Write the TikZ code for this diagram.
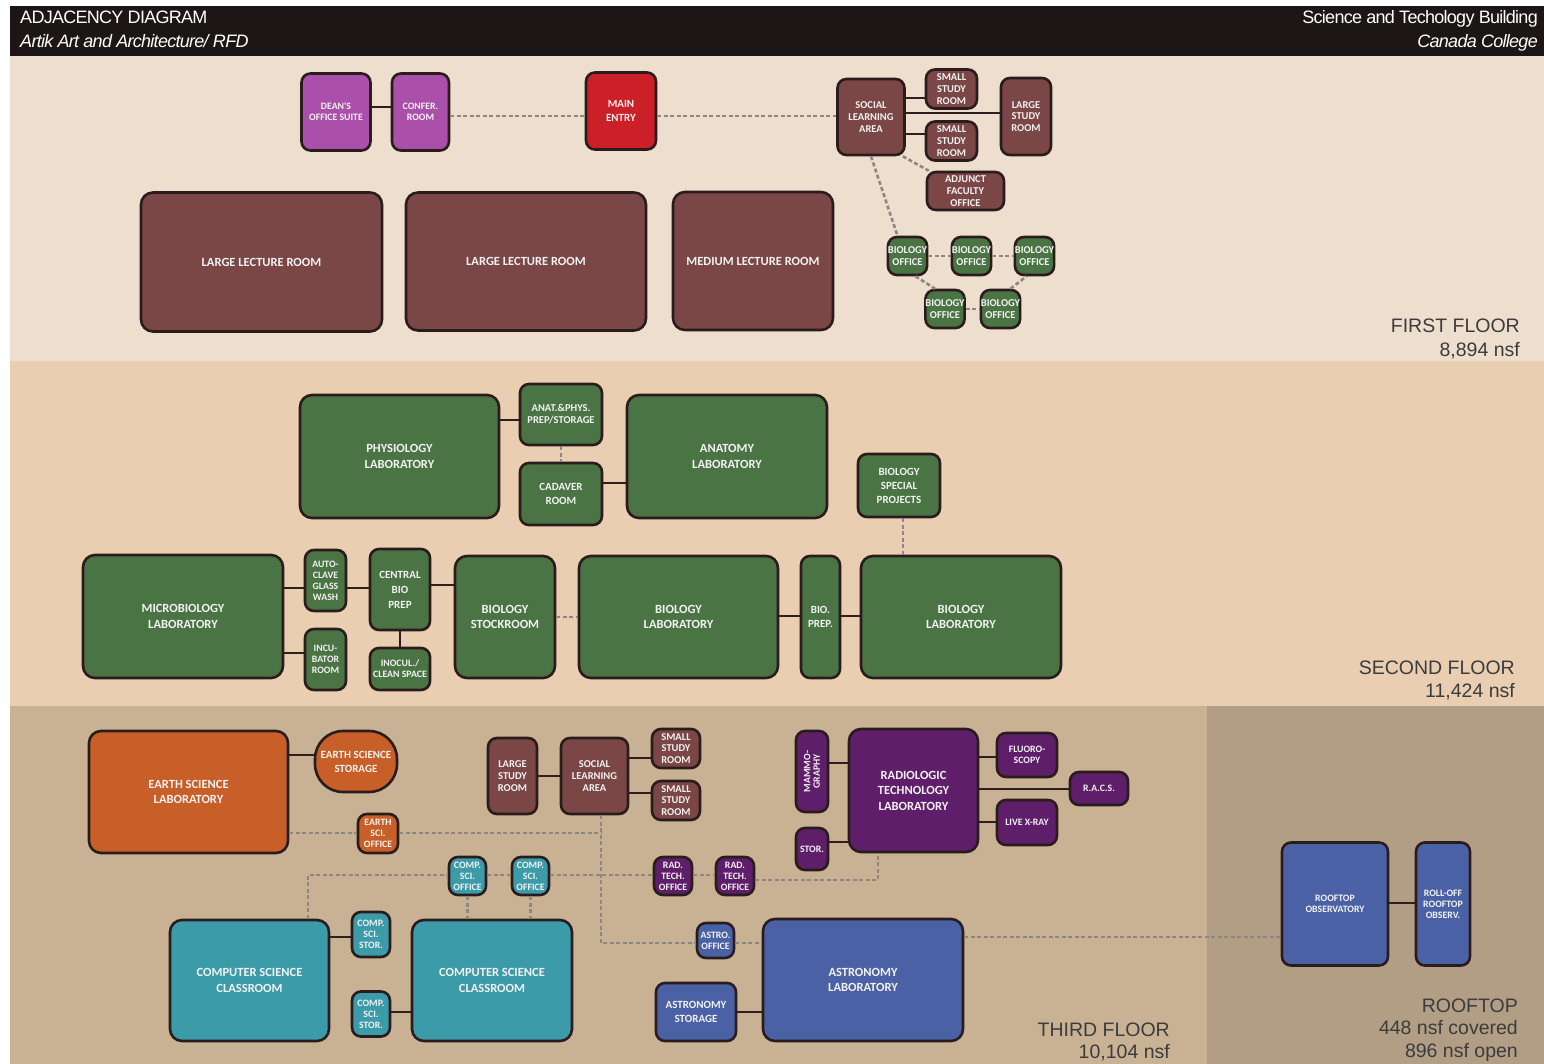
\documentclass[tikz,border=0pt]{standalone}
\usepackage{fontspec}
\setmainfont{Liberation Sans}
\newfontfamily\hdrfont{Liberation Sans}[LetterSpace=-4]
\newfontfamily\roomfont{Carlito}
\definecolor{hdr}{HTML}{1C1616}
\definecolor{bgA}{HTML}{EEDECE}
\definecolor{bgB}{HTML}{E9CEB1}
\definecolor{bgC}{HTML}{C9B294}
\definecolor{bgD}{HTML}{B29E85}
\definecolor{bordc}{HTML}{2A1C1C}
\definecolor{linkc}{HTML}{2E1E1E}
\definecolor{dashc}{HTML}{8C8782}
\definecolor{lblc}{HTML}{3C3C3C}
\definecolor{cmaroon}{HTML}{7A4646}
\definecolor{cpurple}{HTML}{AA4FAA}
\definecolor{cred}{HTML}{CC2028}
\definecolor{cgreen}{HTML}{4A7444}
\definecolor{corange}{HTML}{C85F28}
\definecolor{cteal}{HTML}{3C9BA8}
\definecolor{cblue}{HTML}{4A62A5}
\definecolor{cdpurple}{HTML}{5F1E69}
\tikzset{
  room/.style 2 args={draw=bordc, line width=2.6pt, rounded corners=9pt,
    minimum width=#1pt, minimum height=#2pt, inner sep=0pt, text=white!95!black,
    align=center, font=\roomfont\bfseries\fontsize{10.5}{11.8}\selectfont},
  big/.style={rounded corners=12pt, font=\roomfont\bfseries\fontsize{12.5}{15.5}\selectfont},
  mid/.style={font=\roomfont\bfseries\fontsize{11}{14}\selectfont},
  tiny/.style={font=\roomfont\bfseries\fontsize{9.8}{11}\selectfont},
  fmaroon/.style={fill=cmaroon}, fpurple/.style={fill=cpurple}, fred/.style={fill=cred},
  fgreen/.style={fill=cgreen}, forange/.style={fill=corange}, fteal/.style={fill=cteal},
  fblue/.style={fill=cblue}, fdpurple/.style={fill=cdpurple},
  link/.style={draw=linkc, line width=2.8pt},
  dlink/.style={draw=dashc, line width=2.6pt, dash pattern=on 4pt off 2.5pt},
  floorlbl/.style={anchor=base east, text=lblc, inner sep=0pt, font=\fontsize{19.5}{22}\selectfont},
  hdrtxt/.style={text=white, inner sep=0pt, font=\hdrfont\fontsize{18}{20}\selectfont},
}
\begin{document}
\begin{tikzpicture}[x=1pt,y=-1pt]
\useasboundingbox (0,0) rectangle (1544,1064);
% backgrounds
\fill[white] (0,0) rectangle (1544,1064);
\fill[hdr] (10,6) rectangle (1544,56);
\fill[bgA] (10,56) rectangle (1544,361);
\fill[bgB] (10,361) rectangle (1544,706);
\fill[bgC] (10,706) rectangle (1207,1064);
\fill[bgD] (1207,706) rectangle (1544,1064);
% header
\node[hdrtxt, anchor=base west] (t1) at (20,24) {ADJACENCY DIAGRAM};
\node[hdrtxt, anchor=base west] (t2) at (20,48) {\itshape Artik Art and Architecture/ RFD};
\node[hdrtxt, anchor=base east] (t3) at (1538,24) {Science and Techology Building};
\node[hdrtxt, anchor=base east] (t4) at (1538,48) {\itshape Canada College};
% floor labels
\node[floorlbl] (f1a) at (1520,333) {FIRST FLOOR};
\node[floorlbl] (f1b) at (1520,356) {8,894 nsf};
\node[floorlbl] (f2a) at (1515,674) {SECOND FLOOR};
\node[floorlbl] (f2b) at (1515,697) {11,424 nsf};
\node[floorlbl] (f3a) at (1170,1036) {THIRD FLOOR};
\node[floorlbl] (f3b) at (1170,1058) {10,104 nsf};
\node[floorlbl] (f4a) at (1518,1012) {ROOFTOP};
\node[floorlbl] (f4b) at (1518,1034) {448 nsf covered};
\node[floorlbl] (f4c) at (1518,1057) {896 nsf open};

% ---------- FIRST FLOOR ----------
\node[room={69}{77}, fpurple, tiny] (dean) at (336,112) {DEAN'S\\OFFICE SUITE};
\node[room={57}{77}, fpurple, tiny] (conf) at (420.5,112) {CONFER.\\ROOM};
\node[room={70}{77}, fred, mid] (main) at (621,111) {MAIN\\ENTRY};
\node[room={67}{76}, fmaroon] (sla1) at (871,117) {SOCIAL\\LEARNING\\AREA};
\node[room={51}{39}, fmaroon] (ss1) at (951.5,89) {SMALL\\STUDY\\ROOM};
\node[room={51}{39}, fmaroon] (ss2) at (951.5,141) {SMALL\\STUDY\\ROOM};
\node[room={50}{77}, fmaroon] (lsr1) at (1026,116.5) {LARGE\\STUDY\\ROOM};
\node[room={77}{38}, fmaroon] (adj) at (965.5,191) {ADJUNCT\\FACULTY\\OFFICE};
\node[room={39}{38}, fgreen] (bo1) at (907.5,256) {BIOLOGY\\OFFICE};
\node[room={39}{38}, fgreen] (bo2) at (971.5,256) {BIOLOGY\\OFFICE};
\node[room={39}{38}, fgreen] (bo3) at (1034.5,256) {BIOLOGY\\OFFICE};
\node[room={39}{38}, fgreen] (bo4) at (945,309) {BIOLOGY\\OFFICE};
\node[room={39}{38}, fgreen] (bo5) at (1000.5,309) {BIOLOGY\\OFFICE};
\node[room={241}{139}, fmaroon, big] (llr1) at (261.5,262) {LARGE LECTURE ROOM};
\node[room={240}{138}, fmaroon, big] (llr2) at (526,261.5) {LARGE LECTURE ROOM};
\node[room={160}{138}, fmaroon, big] (mlr) at (753,261) {MEDIUM LECTURE ROOM};

% ---------- SECOND FLOOR ----------
\node[room={199}{123}, fgreen, big] (phys) at (399.5,456.5) {PHYSIOLOGY\\LABORATORY};
\node[room={82}{61}, fgreen] (anat) at (561,414.5) {ANAT.\&PHYS.\\PREP/STORAGE};
\node[room={82}{62}, fgreen, mid] (cad) at (561,494) {CADAVER\\ROOM};
\node[room={200}{123}, fgreen, big] (anatomy) at (727,456.5) {ANATOMY\\LABORATORY};
\node[room={82}{63}, fgreen, mid] (bsp) at (899,485.5) {BIOLOGY\\SPECIAL\\PROJECTS};
\node[room={200}{123}, fgreen, big] (micro) at (183,616.5) {MICROBIOLOGY\\LABORATORY};
\node[room={41}{61}, fgreen, tiny] (auto) at (325.5,580.5) {AUTO-\\CLAVE\\GLASS\\WASH};
\node[room={41}{61}, fgreen, tiny] (incu) at (325.5,659.5) {INCU-\\BATOR\\ROOM};
\node[room={60}{81}, fgreen, font=\roomfont\bfseries\fontsize{11}{15}\selectfont] (cbp) at (400,589.5) {CENTRAL\\BIO\\PREP};
\node[room={60}{42}, fgreen, tiny] (inoc) at (400,669) {INOCUL./\\CLEAN SPACE};
\node[room={100}{122}, fgreen, big] (stock) at (505,617) {BIOLOGY\\STOCKROOM};
\node[room={199}{122}, fgreen, big] (bl1) at (678.5,617) {BIOLOGY\\LABORATORY};
\node[room={39}{122}, fgreen, mid] (bprep) at (820.5,617) {BIO.\\PREP.};
\node[room={200}{122}, fgreen, big] (bl2) at (961,617) {BIOLOGY\\LABORATORY};

% ---------- THIRD FLOOR ----------
\node[room={199}{122}, forange, big] (esl) at (188.5,792) {EARTH SCIENCE\\LABORATORY};
\node[room={82}{61}, forange, mid, rounded corners=28pt] (ess) at (356,761.5) {EARTH SCIENCE\\STORAGE};
\node[room={40}{39}, forange, tiny] (eso) at (378,833.5) {EARTH\\SCI.\\OFFICE};
\node[room={49}{76}, fmaroon] (lsr3) at (512.5,776) {LARGE\\STUDY\\ROOM};
\node[room={67}{76}, fmaroon] (sla3) at (594.5,776) {SOCIAL\\LEARNING\\AREA};
\node[room={48}{39}, fmaroon] (ss3a) at (676,748.5) {SMALL\\STUDY\\ROOM};
\node[room={48}{39}, fmaroon] (ss3b) at (676,800.5) {SMALL\\STUDY\\ROOM};
\node[room={32}{81}, fdpurple, tiny] (mam) at (812,771.5) {\rotatebox{90}{\shortstack{MAMMO-\\GRAPHY}}};
\node[room={32}{42}, fdpurple, tiny] (stor) at (812,849) {STOR.};
\node[room={129}{123}, fdpurple, big] (rad) at (913.5,790.5) {RADIOLOGIC\\TECHNOLOGY\\LABORATORY};
\node[room={60}{44}, fdpurple, tiny] (fluoro) at (1027,755) {FLUORO-\\SCOPY};
\node[room={58}{33}, fdpurple, tiny] (racs) at (1099,788.5) {R.A.C.S.};
\node[room={60}{45}, fdpurple, tiny] (live) at (1027,822.5) {LIVE X-RAY};
\node[room={38}{38}, fdpurple, tiny] (rto1) at (673,876) {RAD.\\TECH.\\OFFICE};
\node[room={38}{38}, fdpurple, tiny] (rto2) at (735,876) {RAD.\\TECH.\\OFFICE};
\node[room={37}{38}, fteal, tiny] (cso1) at (467.5,876) {COMP.\\SCI.\\OFFICE};
\node[room={37}{38}, fteal, tiny] (cso2) at (530.5,876) {COMP.\\SCI.\\OFFICE};
\node[room={159}{121}, fteal, big] (cs1) at (249.5,980.5) {COMPUTER SCIENCE\\CLASSROOM};
\node[room={38}{45}, fteal, tiny] (css1) at (371,934.5) {COMP.\\SCI.\\STOR.};
\node[room={38}{45}, fteal, tiny] (css2) at (371,1014) {COMP.\\SCI.\\STOR.};
\node[room={160}{121}, fteal, big] (cs2) at (492,980.5) {COMPUTER SCIENCE\\CLASSROOM};
\node[room={37}{35}, fblue, tiny] (aso) at (715.5,940.5) {ASTRO.\\OFFICE};
\node[room={80}{58}, fblue, mid] (ast) at (696,1012) {ASTRONOMY\\STORAGE};
\node[room={200}{122}, fblue, big] (al) at (863,980) {ASTRONOMY\\LABORATORY};
\node[room={106}{123}, fblue, tiny] (rto) at (1335,904) {ROOFTOP\\OBSERVATORY};
\node[room={54}{123}, fblue, tiny] (roll) at (1443,904) {ROLL-OFF\\ROOFTOP\\OBSERV.};

% y-levels and junctions
\foreach \v in {98,107,113,116,134,420,483,585,588,616,617,653,755,757,758,763,776,789,793,822,833,842,875,903,937,943,1012}
  {\coordinate (y\v) at (0,\v);}
\coordinate (j1) at (601,833);
\coordinate (j2) at (601,943);
\coordinate (j3) at (308,875);
\coordinate (j4) at (878,880);

% ---------- connectors: first floor ----------
\draw[link] (dean.east |- y107) -- (conf.west |- y107);
\draw[dlink] (conf.east |- y116) -- (main.west |- y116);
\draw[dlink] (main.east |- y116) -- (sla1.west |- y116);
\draw[link] (sla1.east |- y98) -- (ss1.west |- y98);
\draw[link] (sla1.east |- y113) -- (lsr1.west |- y113);
\draw[link] (sla1.east |- y134) -- (ss2.west |- y134);
\draw[dlink] ([xshift=-3pt]sla1.south east) -- ([xshift=3pt]adj.north west);
\draw[dlink] (sla1.south) -- ([xshift=-10pt]bo1.north);
\draw[dlink] (bo1.east) -- (bo2.west);
\draw[dlink] (bo2.east) -- (bo3.west);
\draw[dlink] ([xshift=8pt]bo1.south) -- ([xshift=-10pt]bo4.north);
\draw[dlink] (bo4.east) -- (bo5.west);
\draw[dlink] ([xshift=10pt]bo5.north) -- ([xshift=-8pt]bo3.south);

% ---------- connectors: second floor ----------
\draw[link] (phys.east |- y420) -- (anat.west |- y420);
\draw[dlink] (anat.south) -- (cad.north);
\draw[link] (cad.east |- y483) -- (anatomy.west |- y483);
\draw[dlink] ([xshift=4pt]bsp.south) -- ([xshift=4pt]bsp.south |- bl2.north);
\draw[link] (micro.east |- y588) -- (auto.west |- y588);
\draw[link] (micro.east |- y653) -- (incu.west |- y653);
\draw[link] (auto.east |- y588) -- (cbp.west |- y588);
\draw[link] (cbp.south) -- (inoc.north);
\draw[link] (cbp.east |- y585) -- (stock.west |- y585);
\draw[dlink] (stock.east |- y617) -- (bl1.west |- y617);
\draw[link] (bl1.east |- y616) -- (bprep.west |- y616);
\draw[link] (bprep.east |- y616) -- (bl2.west |- y616);

% ---------- connectors: third floor ----------
\draw[link] (esl.east |- y755) -- (ess.west |- y755);
\draw[dlink] (esl.east |- y833) -- (eso.west |- y833);
\draw[dlink] (eso.east |- y833) -- (j1);
\draw[dlink] (sla3.south -| j1) -- (j2) -- (aso.west |- j2);
\draw[link] (lsr3.east |- y776) -- (sla3.west |- y776);
\draw[link] (sla3.east |- y758) -- (ss3a.west |- y758);
\draw[link] (sla3.east |- y793) -- (ss3b.west |- y793);
\draw[link] (mam.east |- y763) -- (rad.west |- y763);
\draw[link] (stor.east |- y842) -- (rad.west |- y842);
\draw[link] (rad.east |- y757) -- (fluoro.west |- y757);
\draw[link] (rad.east |- y789) -- (racs.west |- y789);
\draw[link] (rad.east |- y822) -- (live.west |- y822);
\draw[dlink] (cs1.north -| j3) -- (j3) -- (cso1.west |- j3);
\draw[dlink] (cso1.east |- y875) -- (cso2.west |- y875);
\draw[dlink] (cso2.east |- y875) -- (rto1.west |- y875);
\draw[dlink] (rto1.east |- y875) -- (rto2.west |- y875);
\draw[dlink] (rto2.east |- j4) -- (j4) -- (j4 |- rad.south);
\draw[dlink] (cso1.south) -- (cso1.south |- cs2.north);
\draw[dlink] (cso2.south) -- (cso2.south |- cs2.north);
\draw[link] (cs1.east |- y937) -- (css1.west |- y937);
\draw[link] (css2.east |- y1012) -- (cs2.west |- y1012);
\draw[dlink] (aso.east |- y943) -- (al.west |- y943);
\draw[link] (ast.east |- y1012) -- (al.west |- y1012);
\draw[dlink] (al.east |- y937) -- (rto.west |- y937);
\draw[link] (rto.east |- y903) -- (roll.west |- y903);
\end{tikzpicture}
\end{document}
